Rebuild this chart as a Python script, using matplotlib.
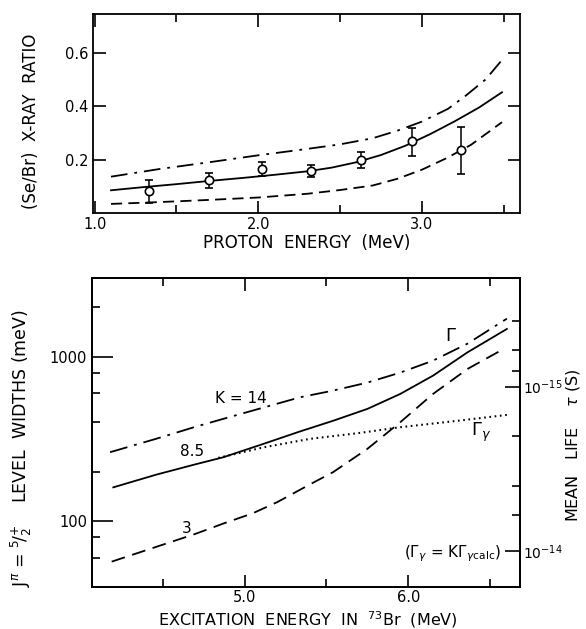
import numpy as np
import matplotlib
matplotlib.use("Agg")
import matplotlib.pyplot as plt
from matplotlib.ticker import FixedLocator, NullFormatter, FixedFormatter, LogFormatterMathtext

plt.rcParams['font.family'] = ['DejaVu Sans']
plt.rcParams['lines.scale_dashes'] = False
plt.rcParams['mathtext.fontset'] = 'dejavusans'

# ---------------- top panel data ----------------
proton_E_pts = [1.33, 1.70, 2.02, 2.32, 2.63, 2.94, 3.24]
ratio_pts = [0.083, 0.122, 0.166, 0.157, 0.198, 0.268, 0.237]
ratio_lo = [0.036, 0.093, 0.138, 0.135, 0.169, 0.212, 0.147]
ratio_hi = [0.122, 0.148, 0.190, 0.178, 0.228, 0.317, 0.323]

solid_E = [1.10, 1.30, 1.50, 1.70, 1.90, 2.10, 2.30, 2.45, 2.60, 2.75, 2.90, 3.05, 3.20, 3.35, 3.49]
solid_R = [0.085, 0.097, 0.108, 0.120, 0.131, 0.143, 0.156, 0.170, 0.190, 0.217, 0.252, 0.295, 0.343, 0.395, 0.452]

dashdot_E = [1.10, 1.40, 1.70, 2.00, 2.30, 2.50, 2.70, 2.85, 3.00, 3.16, 3.27, 3.39, 3.49]
dashdot_R = [0.136, 0.165, 0.190, 0.216, 0.240, 0.257, 0.280, 0.308, 0.342, 0.390, 0.440, 0.500, 0.573]

dashed_E = [1.10, 1.40, 1.70, 2.00, 2.30, 2.50, 2.70, 2.85, 3.00, 3.15, 3.30, 3.49]
dashed_R = [0.034, 0.041, 0.049, 0.058, 0.072, 0.086, 0.103, 0.128, 0.162, 0.205, 0.255, 0.340]

# ---------------- bottom panel data ----------------
k14_E = [4.18, 4.46, 4.70, 4.87, 5.10, 5.34, 5.54, 5.75, 5.95, 6.15, 6.36, 6.60]
k14_W = [263, 317, 375, 419, 486, 567, 622, 696, 800, 946, 1199, 1700]

k85_E = [4.20, 4.46, 4.70, 4.87, 5.10, 5.34, 5.54, 5.75, 5.95, 6.15, 6.36, 6.60]
k85_W = [161, 192, 222, 245, 292, 352, 408, 482, 594, 767, 1062, 1472]

k3_E = [4.19, 4.46, 4.70, 4.87, 5.05, 5.20, 5.40, 5.54, 5.75, 5.95, 6.15, 6.36, 6.58]
k3_W = [57, 70, 84, 97, 112, 131, 168, 199, 276, 400, 594, 842, 1113]

gg_E = [4.84, 5.12, 5.40, 5.70, 5.95, 6.30, 6.60]
gg_W = [243, 282, 317, 344, 373, 408, 443]

HBAR = 6.582e-13  # meV s

LW = 1.3
fig = plt.figure(figsize=(5.86, 6.29), dpi=100)

# ================= top panel =================
ax1 = fig.add_axes([93/586, 1-213/629, 427/586, 199/629])
ax1.plot(solid_E, solid_R, color='black', lw=LW, ls='-')
ax1.plot(dashdot_E, dashdot_R, color='black', lw=LW, ls=(0, (12, 5, 2, 5)))
ax1.plot(dashed_E, dashed_R, color='black', lw=LW, ls=(0, (8, 4.5)))
yerr = [np.array(ratio_pts) - np.array(ratio_lo), np.array(ratio_hi) - np.array(ratio_pts)]
ax1.errorbar(proton_E_pts, ratio_pts, yerr=yerr, fmt='o', ms=6, mfc='white',
             mec='black', mew=1.2, ecolor='black', elinewidth=1.1, capsize=3, capthick=1.1,
             zorder=5)
ax1.set_xlim(0.99, 3.60)
ax1.set_ylim(0.0, 0.745)
ax1.xaxis.set_major_locator(FixedLocator([1.0, 2.0, 3.0]))
ax1.xaxis.set_minor_locator(FixedLocator([1.5, 2.5, 3.5]))
ax1.xaxis.set_major_formatter(FixedFormatter(['1.0', '2.0', '3.0']))
ax1.yaxis.set_major_locator(FixedLocator([0.2, 0.4, 0.6]))
ax1.yaxis.set_major_formatter(FixedFormatter(['0.2', '0.4', '0.6']))
ax1.tick_params(which='both', direction='in', top=True, right=True, width=1.2, labelsize=10.5)
ax1.tick_params(which='major', length=9)
ax1.tick_params(which='minor', length=6)
ax1.tick_params(axis='x', pad=3)
ax1.set_xlabel('PROTON  ENERGY  (MeV)', fontsize=12, labelpad=1)
ax1.set_ylabel('(Se/Br)  X-RAY  RATIO', fontsize=12)
ax1.yaxis.set_label_coords(-0.125, 0.46)
for s in ax1.spines.values():
    s.set_linewidth(1.3)

# ================= bottom panel =================
ax2 = fig.add_axes([92/586, 1-587/629, 428/586, 309/629])
ax2.set_yscale('log')
ax2.plot(k14_E, k14_W, color='black', lw=LW, ls=(0, (13, 5, 2, 5)))
ax2.plot(k85_E, k85_W, color='black', lw=LW, ls='-')
ax2.plot(k3_E, k3_W, color='black', lw=LW, ls=(0, (10, 5.5)))
ax2.plot(gg_E, gg_W, color='black', lw=1.5, ls=(0, (1.2, 2.6)))
ax2.set_xlim(4.07, 6.68)
ax2.set_ylim(40, 3000)
ax2.xaxis.set_major_locator(FixedLocator([5.0, 6.0]))
ax2.xaxis.set_minor_locator(FixedLocator([4.5, 5.5, 6.5]))
ax2.xaxis.set_major_formatter(FixedFormatter(['5.0', '6.0']))
ax2.xaxis.set_minor_formatter(NullFormatter())
ax2.yaxis.set_major_locator(FixedLocator([100, 1000]))
ax2.yaxis.set_major_formatter(FixedFormatter(['100', '1000']))
ax2.yaxis.set_minor_locator(FixedLocator([60, 80, 200, 400, 600, 800, 2000]))
ax2.yaxis.set_minor_formatter(NullFormatter())
ax2.tick_params(which='both', direction='in', top=True, right=False, width=1.2, labelsize=10.5)
ax2.tick_params(axis='y', which='major', length=15)
ax2.tick_params(axis='y', which='minor', length=6)
ax2.tick_params(axis='x', which='major', length=9, pad=2)
ax2.tick_params(axis='x', which='minor', length=6)
ax2.set_ylabel(r'J$^{\pi}$ = $^{5}\!/_{2}^{+}$    LEVEL  WIDTHS (meV)', fontsize=12.5)
ax2.yaxis.set_label_coords(-0.135, 0.45)
for s in ax2.spines.values():
    s.set_linewidth(1.3)
fig.text(308/586, 1-620/629, r'EXCITATION  ENERGY  IN  $^{73}$Br  (MeV)', fontsize=11.5,
         ha='center', va='center')

ax3 = ax2.twinx()
ax3.set_yscale('log')
ax3.set_ylim(HBAR / 40, HBAR / 3000)
ax3.yaxis.set_major_locator(FixedLocator([1e-15, 1e-14]))
ax3.yaxis.set_major_formatter(LogFormatterMathtext())
ax3.yaxis.set_minor_locator(FixedLocator([4e-16, 6e-16, 8e-16, 2e-15, 4e-15, 6e-15]))
ax3.yaxis.set_minor_formatter(NullFormatter())
ax3.tick_params(which='both', direction='in', width=1.2, labelsize=10)
ax3.tick_params(which='major', length=11, pad=2)
ax3.tick_params(which='minor', length=6)
for s in ax3.spines.values():
    s.set_linewidth(1.3)
fig.text(573/586, 1-445/629, r'MEAN   LIFE    $\tau$ (S)', fontsize=11.5, rotation=90,
         ha='center', va='center')

# annotations
ax2.text(4.98, 559, 'K = 14', fontsize=11, ha='center', va='center')
ax2.text(4.68, 266, '8.5', fontsize=11, ha='center', va='center')
ax2.text(4.65, 90, '3', fontsize=11, ha='center', va='center')
ax2.text(6.26, 1340, r'$\Gamma$', fontsize=13, ha='center', va='center')
ax2.text(6.44, 345, r'$\Gamma_{\gamma}$', fontsize=13, ha='center', va='center')
ax2.text(6.27, 64, r'($\Gamma_{\gamma}$ = K$\Gamma_{\gamma \mathrm{calc}}$)', fontsize=11,
         ha='center', va='center')

fig.savefig('out.png', dpi=100)
